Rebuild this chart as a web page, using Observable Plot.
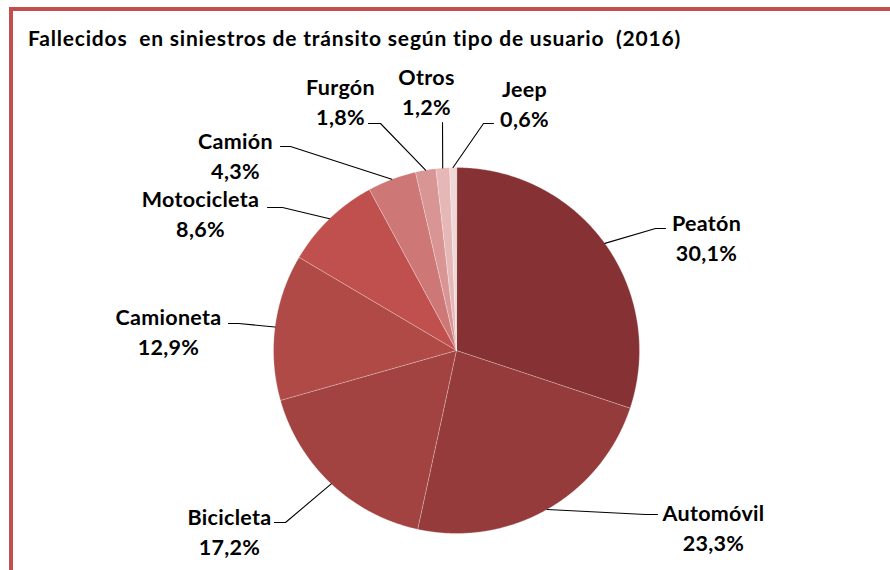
<!DOCTYPE html>
<html><head><meta charset="utf-8">
<script src="https://cdn.jsdelivr.net/npm/d3@7"></script>
<script src="https://cdn.jsdelivr.net/npm/@observablehq/plot@0.6"></script>
<style>
body{margin:0;background:#fff;font-family:Lato,"Open Sans",sans-serif;}
#wrap{position:relative;width:890px;height:570px;overflow:hidden;}
#frame{position:absolute;left:9px;top:7px;width:900px;height:600px;border-top:4px solid #c0504d;border-left:4px solid #c0504d;pointer-events:none;}
#title{height:60px;box-sizing:border-box;padding-left:28px;padding-top:26px;font-weight:700;font-size:21px;line-height:24px;letter-spacing:0.8px;color:#000;white-space:pre;}
#chart svg{display:block;}
</style></head>
<body><div id="wrap"><div id="frame"></div><div id="title">Fallecidos  en siniestros de tránsito según tipo de usuario  (2016)</div><div id="chart"></div></div>
<script>
// ---- data ----
const categories = ["Peatón","Automóvil","Bicicleta","Camioneta","Motocicleta","Camión","Furgón","Otros","Jeep"];
const shares = [30.1, 23.3, 17.2, 12.9, 8.6, 4.3, 1.8, 1.2, 0.6];
const shareLabels = ["30,1%","23,3%","17,2%","12,9%","8,6%","4,3%","1,8%","1,2%","0,6%"];
const colors = ["#863234","#953b3b","#a34341","#b04a47","#c0504d","#cd7876","#d89593","#e5b8b7","#f0d8d8"];

// ---- layout (annotation placement, px offsets from pie centre) ----
const labelText = [[250,-126],[257,164],[-227,168],[-288,-32],[-256,-150],[-221,-208],[-116,-262],[-30,-272],[68,-260]];
const labelElbow = [[199,-122],[189,164],[-171,172],[-218,-27],[-174,-143],[-166,-204],[-76,-227],[-14,-228],[27,-227]];
const labelEnd = [[209,-122],[201,164],[-182,172],[-228,-27],[-189,-143],[-176,-204],[-88,-227],[-14,-228],[37,-227]];

const W = 890, H = 510, R = 183, CX = 456, CY = 290, LINE = 30;

const rows = categories.map((name, i) => ({name, value: shares[i], label: shareLabels[i], i}));
const arcs = d3.pie().value(d => d.value).sort(null)(rows);

const slicePts = [];
for (const a of arcs) {
  const n = Math.max(2, Math.ceil((a.endAngle - a.startAngle) / 0.005));
  slicePts.push({name: a.data.name, x: 0, y: 0});
  for (let k = 0; k <= n; k++) {
    const t = a.startAngle + (a.endAngle - a.startAngle) * k / n;
    slicePts.push({name: a.data.name, x: Math.sin(t), y: Math.cos(t)});
  }
}

const u = ([dx, dy]) => ({x: dx / R, y: -dy / R});
const leaderPts = [];
const textRows = [];
for (const a of arcs) {
  const i = a.data.i, m = (a.startAngle + a.endAngle) / 2;
  leaderPts.push({name: a.data.name, x: Math.sin(m), y: Math.cos(m)});
  leaderPts.push({name: a.data.name, ...u(labelElbow[i])});
  leaderPts.push({name: a.data.name, ...u(labelEnd[i])});
  const p = u(labelText[i]);
  textRows.push({name: a.data.name, label: a.data.label, x: p.x, y: p.y, y2: p.y - LINE / R});
}

const chart = Plot.plot({
  width: W, height: H,
  marginTop: 0, marginRight: 0, marginBottom: 0, marginLeft: 0,
  x: {domain: [-CX / R, (W - CX) / R], axis: null},
  y: {domain: [-(H - CY) / R, CY / R], axis: null},
  color: {domain: categories, range: colors},
  style: {fontFamily: "Lato, 'Open Sans', sans-serif", background: "transparent", letterSpacing: "0.3px"},
  marks: [
    Plot.line(slicePts, {x: "x", y: "y", z: "name", fill: "name", stroke: "#ffffff", strokeWidth: 0.6, strokeOpacity: 0.5, curve: "linear-closed"}),
    Plot.line(leaderPts, {x: "x", y: "y", z: "name", stroke: "#000", strokeWidth: 1.1}),
    Plot.text(textRows, {x: "x", y: "y", text: "name", fontSize: 21.5, fontWeight: 700, fill: "#000", textAnchor: "middle"}),
    Plot.text(textRows, {x: "x", y: "y2", text: "label", fontSize: 21.5, fontWeight: 700, fill: "#000", textAnchor: "middle"})
  ]
});
document.getElementById("chart").appendChild(chart);
</script>
</body></html>
